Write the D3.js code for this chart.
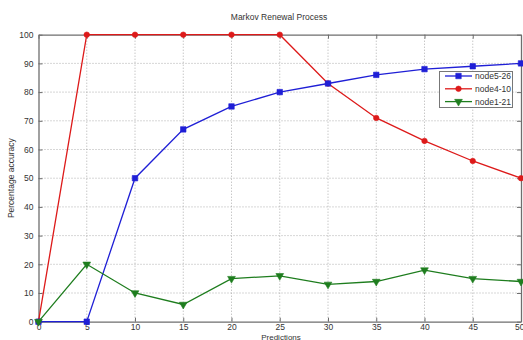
<!DOCTYPE html>
<html>
<head>
<meta charset="utf-8">
<script src="https://cdn.jsdelivr.net/npm/d3@7"></script>
<style>
  html, body { margin: 0; padding: 0; background: #fff; }
  svg { display: block; font-family: "Liberation Sans", Arial, sans-serif; }
</style>
</head>
<body>
<svg id="chart" width="523" height="340"></svg>
<script>
// Prediction counts along the x axis
const predictions = [0, 5, 10, 15, 20, 25, 30, 35, 40, 45, 50];

// Accuracy (%) for each node pair
const node5_26 = [0, 0, 50, 67, 75, 80, 83, 86, 88, 89, 90];
const node4_10 = [0, 100, 100, 100, 100, 100, 83, 71, 63, 56, 50];
const node1_21 = [0, 20, 10, 6, 15, 16, 13, 14, 18, 15, 14];

const seriesNames = ["node5-26", "node4-10", "node1-21"];
const xTicks = [0, 5, 10, 15, 20, 25, 30, 35, 40, 45, 50];
const yTicks = [0, 10, 20, 30, 40, 50, 60, 70, 80, 90, 100];

const series = [
  { name: seriesNames[0], values: node5_26, color: "#1f1fd6", marker: "square" },
  { name: seriesNames[1], values: node4_10, color: "#dd1a1a", marker: "circle" },
  { name: seriesNames[2], values: node1_21, color: "#1e7d1e", marker: "triangle" }
];

const svg = d3.select("#chart");
const plotL = 38.5, plotR = 521, plotT = 34.7, plotB = 321.7;

const x = d3.scaleLinear().domain([0, 50]).range([plotL, plotR]);
const y = d3.scaleLinear().domain([0, 100]).range([plotB, plotT]);

// Dotted grid
const grid = svg.append("g");
grid.selectAll("line.vx").data(xTicks.slice(1, -1)).join("line")
  .attr("x1", d => x(d)).attr("x2", d => x(d))
  .attr("y1", plotT).attr("y2", plotB)
  .attr("stroke", "#9a9a9a").attr("stroke-width", 0.8)
  .attr("stroke-dasharray", "1,2");
grid.selectAll("line.hy").data(yTicks.slice(1, -1)).join("line")
  .attr("x1", plotL).attr("x2", plotR)
  .attr("y1", d => y(d)).attr("y2", d => y(d))
  .attr("stroke", "#9a9a9a").attr("stroke-width", 0.8)
  .attr("stroke-dasharray", "1,2");

// Axes with inward ticks
const axisColor = "#6e6e6e";
const xAxis = svg.append("g").attr("transform", `translate(0,${plotB})`)
  .call(d3.axisBottom(x).tickValues(xTicks).tickSizeInner(-4).tickSizeOuter(0).tickPadding(2));
const yAxis = svg.append("g").attr("transform", `translate(${plotL},0)`)
  .call(d3.axisLeft(y).tickValues(yTicks).tickSizeInner(-4).tickSizeOuter(0).tickPadding(5));
const xTop = svg.append("g").attr("transform", `translate(0,${plotT})`)
  .call(d3.axisTop(x).tickValues(xTicks).tickSizeInner(-4).tickSizeOuter(0).tickFormat(""));
const yRight = svg.append("g").attr("transform", `translate(${plotR},0)`)
  .call(d3.axisRight(y).tickValues(yTicks).tickSizeInner(-4).tickSizeOuter(0).tickFormat(""));

[xAxis, yAxis, xTop, yRight].forEach(g => {
  g.select(".domain").attr("stroke", axisColor).attr("stroke-width", 1.3);
  g.selectAll(".tick line").attr("stroke", axisColor);
  g.selectAll(".tick text").attr("fill", "#333").attr("font-size", 8.5);
});
// the last x label sits at the window edge; keep it inside
xAxis.selectAll(".tick text").filter(d => d === 50).attr("text-anchor", "end").attr("dx", 3);

// Lines and markers
const line = d3.line().x((d, i) => x(predictions[i])).y(d => y(d));
const sym = { square: d3.symbolSquare, circle: d3.symbolCircle, triangle: d3.symbolTriangle };
const symSize = { square: 30, circle: 24, triangle: 26 };

function drawMarker(g, s, cx, cy) {
  const p = g.append("path")
    .attr("d", d3.symbol().type(sym[s.marker]).size(symSize[s.marker])())
    .attr("fill", s.color).attr("stroke", s.color).attr("stroke-width", 0.6);
  const rot = s.marker === "triangle" ? " rotate(180)" : "";
  p.attr("transform", `translate(${cx},${cy})${rot}`);
}

// draw in order so the green series sits on top
[series[1], series[0], series[2]].forEach(s => {
  const g = svg.append("g");
  g.append("path").datum(s.values).attr("d", line)
    .attr("fill", "none").attr("stroke", s.color).attr("stroke-width", 1.3);
  s.values.forEach((v, i) => drawMarker(g, s, x(predictions[i]), y(v)));
});

// Title and axis labels
svg.append("text").attr("x", 279).attr("y", 20).attr("text-anchor", "middle")
  .attr("font-size", 8.5).attr("fill", "#333").text("Markov Renewal Process");
svg.append("text").attr("x", 281).attr("y", 339.5).attr("text-anchor", "middle")
  .attr("font-size", 8).attr("fill", "#333").text("Predictions");
svg.append("text").attr("transform", `translate(14,${(plotT + plotB) / 2}) rotate(-90)`)
  .attr("text-anchor", "middle").attr("font-size", 8.5).attr("fill", "#333")
  .text("Percentage accuracy");

// Legend
const lg = svg.append("g");
lg.append("rect").attr("x", 439.5).attr("y", 71.5).attr("width", 73).attr("height", 36)
  .attr("fill", "#fff").attr("stroke", "#777").attr("stroke-width", 1);
series.forEach((s, i) => {
  const ly = 76 + i * 12.8;
  lg.append("line").attr("x1", 445).attr("x2", 472).attr("y1", ly).attr("y2", ly)
    .attr("stroke", s.color).attr("stroke-width", 1.3);
  drawMarker(lg, s, 458.5, ly);
  lg.append("text").attr("x", 475).attr("y", ly + 3).attr("font-size", 8.5)
    .attr("fill", "#333").text(s.name);
});
</script>
</body>
</html>
